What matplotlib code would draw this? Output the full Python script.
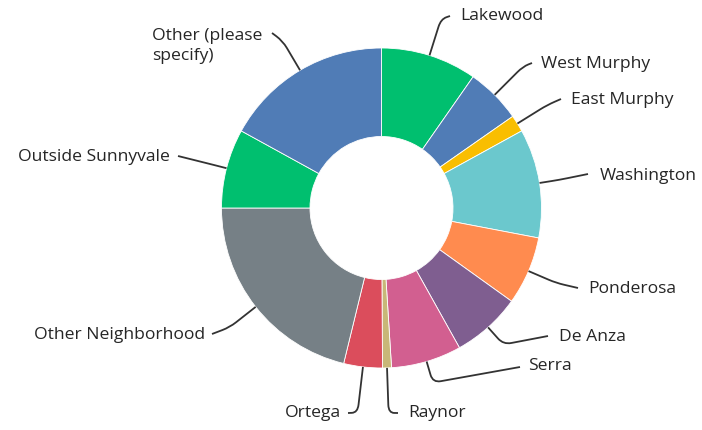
import numpy as np
import matplotlib
matplotlib.use('Agg')
import matplotlib.pyplot as plt
from matplotlib.path import Path
from matplotlib.patches import PathPatch

categories = ["Lakewood", "West Murphy", "East Murphy", "Washington", "Ponderosa",
              "De Anza", "Serra", "Raynor", "Ortega", "Other Neighborhood",
              "Outside Sunnyvale", "Other (please\nspecify)"]
values = [9.7, 5.6, 1.7, 11.0, 6.9, 7.0, 7.1, 0.9, 3.9, 21.2, 8.0, 17.0]
colors = ["#00BF6F", "#507CB6", "#F9BE00", "#6BC8CD", "#FF8B4F", "#7F5E90",
          "#D25F90", "#C8B778", "#DB4D5C", "#768086", "#00BF6F", "#507CB6"]

# label layout in pixel coords: (radial leg length, line end x, line end y, text x, text y, ha)
layout = [
    (38, 450, 16, 460, 16, 'left'),
    (40, 532, 63, 541, 64, 'left'),
    (35, 561, 99, 571, 100, 'left'),
    (20, 588, 174, 600, 176, 'left'),
    (30, 578, 288, 588, 289, 'left'),
    (23, 548, 336, 559, 337, 'left'),
    (22, 520, 367, 528, 366, 'left'),
    (45, 398, 413, 408, 413, 'left'),
    (46, 348, 413, 341, 413, 'right'),
    (33, 212, 334, 205, 335, 'right'),
    (12, 178, 156, 170, 157, 'right'),
    (34, 272, 33, 152, 46, 'left'),
]

W, H = 702, 430
fig = plt.figure(figsize=(7.02, 4.30), dpi=100)
ax = fig.add_axes([0, 0, 1, 1])
cx, cy = 381.5, H - 208
R = 160
r_in = 71.5
wedges, _ = ax.pie(values, colors=colors, startangle=90, counterclock=False,
                   radius=R, center=(cx, cy),
                   wedgeprops=dict(width=R - r_in, edgecolor='white', linewidth=0.6))
ax.set_xlim(0, W)
ax.set_ylim(0, H)
ax.set_aspect('equal')
ax.axis('off')

txt_color = '#262626'
for w, lab, (L, ex, ey, tx, ty, ha) in zip(wedges, categories, layout):
    a = np.deg2rad((w.theta1 + w.theta2) / 2)
    d = np.array([np.cos(a), np.sin(a)])
    p0 = np.array([cx, cy]) + R * d
    pe = p0 + L * d
    p4 = np.array([ex, H - ey])
    v1 = p0 - pe
    v2 = p4 - pe
    n1 = np.linalg.norm(v1)
    n2 = np.linalg.norm(v2)
    rr = 8
    p1 = pe + v1 / n1 * min(rr, n1 * 0.6)
    p3 = pe + v2 / n2 * min(rr, n2 * 0.6)
    path = Path([p0, p1, pe, p3, p4],
                [Path.MOVETO, Path.LINETO, Path.CURVE3, Path.CURVE3, Path.LINETO])
    ax.add_patch(PathPatch(path, fill=False, edgecolor='#333333', lw=1.3))
    ax.text(tx, H - ty, lab, ha=ha, va='center', fontsize=12.6, color=txt_color,
            family='Open Sans', linespacing=1.33)

fig.savefig('out.png', dpi=100)
